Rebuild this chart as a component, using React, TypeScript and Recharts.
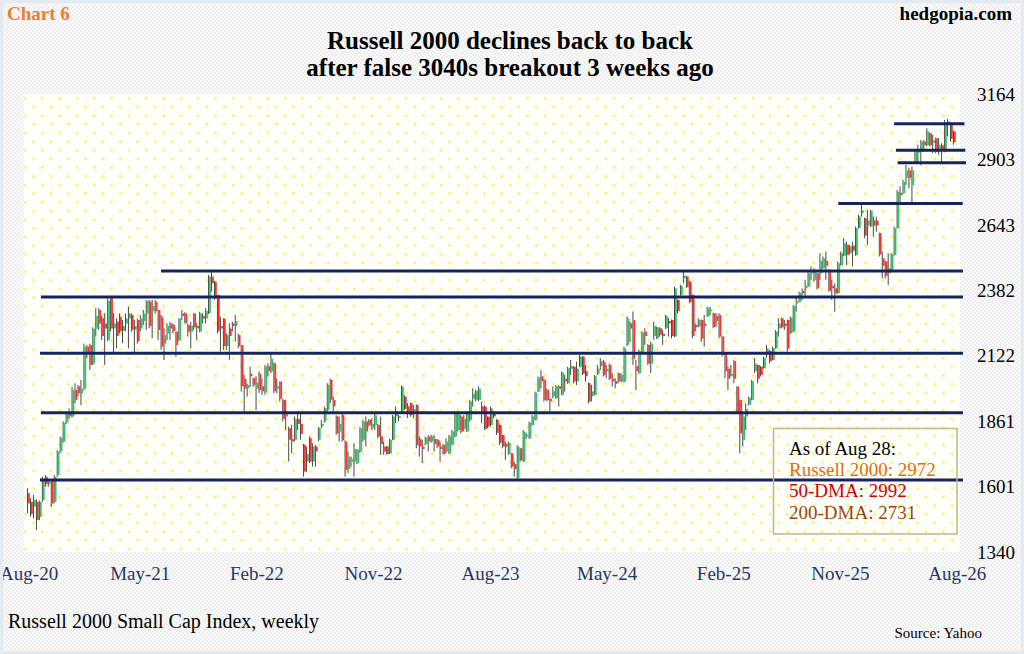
import React from 'react';
import { ComposedChart, Bar, XAxis, YAxis, CartesianGrid, ReferenceLine } from 'recharts';

const SERIF = "'Liberation Serif', 'Times New Roman', serif";

// Weekly OHLC, Russell 2000
const opens = [
  1574,1540,1520,1540,1480,1547,1640,1610,1627,1540,
  1647,1740,1779,1855,1890,1880,1985,2000,1972,1990,
  2158,2164,2090,2229,2304,2271,2250,2184,2350,2230,
  2258,2277,2220,2250,2270,2284,2225,2264,2230,2260,
  2290,2337,2300,2337,2304,2277,2170,2210,2250,2244,
  2218,2184,2290,2291,2244,2218,2290,2240,2218,2280,
  2270,2291,2437,2417,2364,2240,2270,2160,2230,2250,
  2240,2204,2164,2030,1992,2050,2032,1990,2050,2000,
  1975,2080,2060,2092,1990,2019,1946,1880,1833,1790,
  1787,1870,1850,1767,1700,1793,1700,1760,1787,1840,
  1860,1906,2026,1946,1880,1820,1886,1780,1670,1700,
  1700,1693,1740,1787,1860,1866,1835,1845,1846,1800,
  1760,1760,1733,1787,1880,1880,1899,1959,1920,1933,
  1900,1926,1790,1760,1770,1800,1780,1790,1787,1760,
  1767,1740,1733,1767,1800,1826,1879,1830,1820,1866,
  1950,1946,1946,1920,1919,1879,1846,1890,1866,1846,
  1806,1770,1730,1733,1690,1634,1753,1700,1800,1793,
  1846,1866,1979,2040,2025,1986,1950,1960,1952,2000,
  1966,2030,2012,2070,2078,2020,2078,2118,2060,2012,
  1960,1966,2050,2080,2098,2060,2085,2030,2020,2052,
  2019,2019,2165,2250,2264,2080,2052,2132,2218,2165,
  2090,2200,2191,2231,2210,2231,2260,2264,2198,2344,
  2364,2430,2437,2417,2364,2244,2238,2264,2250,2278,
  2300,2291,2280,2284,2198,2131,2070,2040,2100,1999,
  1946,1786,1880,1926,1946,2060,2085,2078,2072,2130,
  2140,2105,2151,2230,2271,2250,2264,2211,2218,2330,
  2337,2380,2390,2397,2450,2424,2450,2450,2470,2500,
  2464,2400,2390,2371,2483,2520,2563,2530,2560,2523,
  2630,2690,2669,2640,2636,2660,2660,2610,2510,2497,
  2450,2464,2523,2630,2770,2769,2830,2860,2800,2888,
  2930,2935,2975,2960,3008,2970,2988,2940,2960,2935,
  3040,3048,3015,
];

const highs = [
  1594,1554,1567,1550,1545,1640,1647,1627,1630,1647,
  1746,1800,1860,1892,1912,1998,2012,2005,2025,2170,
  2164,2170,2235,2311,2311,2280,2291,2350,2357,2291,
  2271,2290,2264,2290,2317,2290,2264,2270,2284,2304,
  2344,2344,2344,2344,2304,2284,2231,2251,2257,2251,
  2218,2271,2304,2295,2250,2257,2291,2251,2297,2291,
  2311,2443,2460,2420,2364,2277,2271,2211,2251,2257,
  2284,2210,2164,2045,2010,2078,2035,2040,2059,2030,
  2085,2092,2130,2095,2032,2020,1950,1946,1840,1846,
  1880,1900,1893,1770,1760,1800,1773,1767,1837,1866,
  1919,2012,2030,1959,1885,1880,1890,1785,1740,1720,
  1773,1750,1837,1866,1880,1870,1873,1893,1850,1879,
  1780,1762,1790,1886,1919,1886,2003,1965,1933,1935,
  1926,1928,1800,1787,1800,1806,1806,1806,1790,1780,
  1770,1793,1806,1826,1899,1899,1885,1886,1899,1946,
  1992,1986,1999,1939,1925,1880,1919,1900,1870,1848,
  1808,1780,1780,1735,1700,1766,1755,1826,1815,1859,
  1886,1979,2039,2065,2030,1990,1952,1999,2005,2005,
  2059,2045,2078,2105,2080,2098,2125,2120,2085,2015,
  2005,2045,2085,2112,2105,2085,2090,2052,2032,2055,
  2052,2158,2278,2258,2298,2105,2145,2218,2231,2168,
  2178,2258,2238,2235,2225,2284,2271,2266,2397,2346,
  2404,2457,2440,2420,2366,2250,2271,2266,2284,2317,
  2317,2293,2291,2291,2200,2131,2078,2085,2105,2000,
  1946,1892,1932,1959,2025,2112,2085,2080,2118,2165,
  2145,2158,2224,2271,2273,2264,2266,2278,2324,2357,
  2377,2390,2424,2457,2477,2470,2452,2530,2517,2537,
  2466,2424,2410,2497,2537,2590,2576,2563,2576,2636,
  2683,2722,2672,2703,2703,2676,2676,2612,2537,2500,
  2530,2530,2636,2782,2796,2822,2882,2869,2875,2942,
  2962,2981,2981,3028,3010,3001,2990,2988,2968,3061,
  3064,3050,3018,
];

const lows = [
  1494,1481,1474,1427,1467,1540,1600,1600,1520,1534,
  1640,1735,1775,1850,1870,1875,1932,1960,1925,1985,
  2111,2065,2085,2198,2224,2184,2085,2180,2218,2131,
  2151,2211,2171,2220,2151,2218,2131,2170,2218,2244,
  2224,2231,2191,2290,2184,2145,2105,2184,2184,2211,
  2118,2180,2264,2250,2198,2151,2224,2184,2215,2251,
  2251,2288,2377,2344,2211,2138,2145,2145,2105,2218,
  2178,2151,1979,1899,1959,1998,1998,1905,1973,1966,
  1966,2039,2052,1973,1973,1939,1860,1826,1700,1733,
  1780,1826,1787,1640,1660,1694,1680,1680,1780,1833,
  1855,1900,1933,1900,1807,1780,1780,1640,1654,1680,
  1640,1690,1735,1780,1760,1840,1826,1826,1793,1727,
  1727,1727,1730,1785,1853,1860,1895,1906,1873,1879,
  1873,1753,1720,1694,1765,1740,1775,1740,1753,1700,
  1727,1733,1730,1765,1798,1820,1813,1820,1818,1860,
  1919,1940,1940,1853,1826,1833,1840,1873,1806,1766,
  1753,1707,1727,1673,1640,1630,1700,1698,1790,1790,
  1844,1864,1977,1992,1939,1939,1899,1952,1950,1919,
  1964,1979,2010,2045,2012,2005,2076,2045,2019,1932,
  1939,1964,2045,2065,2039,2032,2025,1999,1992,2012,
  2015,2015,2160,2178,2085,1985,2050,2130,2165,2085,
  2052,2185,2188,2198,2165,2228,2198,2191,2196,2290,
  2360,2410,2391,2331,2191,2218,2235,2178,2158,2276,
  2284,2231,2238,2191,2118,2032,1985,2039,2012,1892,
  1733,1760,1826,1924,1944,2052,2012,2039,2070,2112,
  2092,2103,2150,2198,2231,2224,2138,2209,2216,2297,
  2335,2344,2357,2395,2424,2417,2386,2424,2468,2424,
  2377,2344,2297,2369,2480,2517,2483,2525,2477,2520,
  2628,2676,2590,2563,2634,2596,2616,2517,2430,2430,
  2404,2462,2520,2628,2729,2765,2802,2789,2722,2886,
  2888,2880,2935,2955,2955,2928,2928,2922,2888,2932,
  2995,2975,2962,
];

const closes = [
  1534,1490,1547,1467,1540,1627,1610,1620,1534,1640,
  1740,1795,1855,1890,1880,1985,1945,1972,1990,2158,
  2130,2085,2229,2280,2250,2200,2230,2340,2230,2250,
  2200,2220,2240,2270,2290,2225,2240,2180,2270,2290,
  2340,2240,2320,2300,2224,2158,2204,2240,2230,2220,
  2164,2270,2280,2251,2218,2240,2235,2231,2290,2270,
  2300,2437,2410,2350,2220,2230,2160,2204,2200,2240,
  2260,2160,2000,1990,2005,2040,2005,2015,1985,1980,
  2080,2060,2110,1980,2000,1950,1870,1900,1787,1780,
  1870,1850,1810,1660,1730,1700,1760,1740,1833,1850,
  1913,2005,1946,1920,1811,1850,1785,1667,1720,1710,
  1750,1747,1833,1860,1820,1845,1850,1885,1800,1770,
  1740,1730,1787,1880,1900,1875,1999,1910,1900,1885,
  1910,1765,1760,1750,1795,1780,1800,1770,1760,1750,
  1730,1780,1800,1820,1890,1895,1820,1870,1895,1940,
  1970,1982,1990,1900,1830,1840,1912,1880,1815,1775,
  1760,1760,1775,1680,1670,1760,1705,1820,1808,1855,
  1880,1975,2035,2020,1945,1945,1940,1980,2000,1990,
  2055,2020,2072,2080,2020,2070,2118,2050,2040,1940,
  1980,2040,2070,2100,2045,2070,2030,2020,2010,2020,
  2045,2150,2270,2230,2110,2060,2140,2215,2200,2090,
  2170,2240,2235,2205,2200,2280,2250,2200,2390,2300,
  2400,2440,2395,2335,2200,2235,2265,2190,2240,2312,
  2305,2236,2260,2198,2125,2060,2030,2050,2030,1900,
  1813,1880,1910,1955,2020,2090,2030,2045,2112,2150,
  2100,2152,2218,2250,2235,2240,2150,2274,2320,2340,
  2372,2370,2400,2450,2460,2465,2390,2500,2510,2480,
  2380,2390,2370,2490,2530,2570,2523,2557,2540,2630,
  2676,2700,2600,2660,2700,2640,2640,2525,2480,2440,
  2470,2525,2630,2775,2760,2815,2860,2830,2860,2938,
  2945,2975,2960,3015,2960,2980,2935,2960,2940,3050,
  3055,2985,2972,
];

// X axis (week index positions of the date labels)
const xTickPositions = [0.15, 37.6, 76.9, 116.2, 155.6, 194.9, 234.2, 273.5, 312.9];
const xTickLabels = ['Aug-20', 'May-21', 'Feb-22', 'Nov-22', 'Aug-23', 'May-24', 'Feb-25', 'Nov-25', 'Aug-26'];
const yTicks = [1340, 1601, 1861, 2122, 2382, 2643, 2903, 3164];

// Support / resistance levels
const levelValues = [1627, 1895, 2132, 2356, 2459, 2728, 2890, 2940, 3046];
const levelStarts = [3.8, 4.1, 3.8, 4.1, 44.6, 272.8, 292.8, 292.2, 291.6];
const levelEnds = [314.8, 314.8, 314.8, 314.8, 314.8, 314.7, 315.8, 315.6, 315.3];

const legendLines = [
  { text: 'As of Aug 28:', color: '#000000' },
  { text: 'Russell 2000: 2972', color: '#E46C0A' },
  { text: '50-DMA: 2992', color: '#D00000' },
  { text: '200-DMA: 2731', color: '#974806' },
];

const n = Math.min(opens.length, highs.length, lows.length, closes.length);
const data = Array.from({ length: n }, (_, i) => ({
  i,
  open: opens[i],
  high: highs[i],
  low: lows[i],
  close: closes[i],
  range: [lows[i], highs[i]],
}));

const GREEN = '#2fc46c';
const RED = '#ff3030';
const WICK = '#4a4a4a';

const Candle = (props: any) => {
  const { x, y, width, height, payload } = props;
  if (payload == null || x == null || y == null) return null;
  const { open, high, low, close } = payload;
  const top = Math.min(y, y + height);
  const h = Math.abs(height);
  const cx = x + width / 2;
  const span = high - low || 1;
  const py = (v: number) => top + ((high - v) / span) * h;
  const up = close >= open;
  const bTop = py(Math.max(open, close));
  const bBot = py(Math.min(open, close));
  return (
    <g>
      <rect x={cx - 1.2} y={top} width={1} height={Math.max(h, 1)} fill={WICK} />
      <rect x={cx - 0.2} y={bTop} width={1.8} height={Math.max(bBot - bTop, 1)} fill={up ? GREEN : RED} />
    </g>
  );
};

const fmtX = (v: number) => {
  const k = xTickPositions.indexOf(v);
  return k >= 0 ? xTickLabels[k] : '';
};

export default function App() {
  return (
    <div
      style={{
        position: 'absolute',
        left: 0,
        top: 0,
        width: 1024,
        height: 654,
        overflow: 'hidden',
        background: 'repeating-conic-gradient(#eeeeee 0% 25%, #fafafa 0% 50%) 0 0 / 4px 4px',
      }}
    >
      <ComposedChart
        width={1024}
        height={654}
        data={data}
        margin={{ top: 94, right: 0, bottom: 72, left: 23.6 }}
      >
        <defs>
          <pattern id="dotPattern" patternUnits="userSpaceOnUse" x={29.33} y={93.97} width={17.33} height={17.33}>
            <rect x={0} y={0} width={17.33} height={17.33} fill="#fffffb" />
            <rect x={12} y={3.33} width={2} height={2} fill="#f4f400" />
            <rect x={3.33} y={12} width={2} height={2} fill="#f4f400" />
          </pattern>
        </defs>
        <CartesianGrid horizontal={false} vertical={false} fill="url(#dotPattern)" stroke="none" />
        <XAxis
          type="number"
          dataKey="i"
          domain={[-1.72, 313.8]}
          allowDataOverflow
          ticks={xTickPositions}
          tickFormatter={fmtX}
          interval={0}
          axisLine={false}
          tickLine={false}
          tickSize={0}
          tickMargin={15}
          height={30}
          tick={{ fill: '#1f3864', fontSize: 19, fontFamily: SERIF }}
        />
        <YAxis
          orientation="right"
          domain={[1340, 3164]}
          allowDataOverflow
          ticks={yTicks}
          interval={0}
          width={64}
          axisLine={false}
          tickLine={false}
          tickSize={0}
          tickMargin={17}
          tick={{ fill: '#000000', fontSize: 19, fontFamily: SERIF }}
        />
        <Bar dataKey="range" barSize={2} shape={Candle} isAnimationActive={false} />
        {levelValues.map((v, k) => (
          <ReferenceLine
            key={k}
            segment={[
              { x: levelStarts[k], y: v },
              { x: levelEnds[k], y: v },
            ]}
            stroke="#15255c"
            strokeWidth={3}
            ifOverflow="visible"
          />
        ))}
      </ComposedChart>

      <svg
        width={1024}
        height={654}
        style={{ position: 'absolute', left: 0, top: 0, pointerEvents: 'none' }}
        fontFamily={SERIF}
      >
        <text x={7} y={20} fontSize={19} fontWeight="bold" fill="#ED7D31">Chart 6</text>
        <text x={1012} y={20} fontSize={19} fontWeight="bold" fill="#000" textAnchor="end">hedgopia.com</text>
        <text x={510} y={48.5} fontSize={25} fontWeight="bold" fill="#000" textAnchor="middle">
          Russell 2000 declines back to back
        </text>
        <text x={510} y={76} fontSize={25} fontWeight="bold" fill="#000" textAnchor="middle">
          after false 3040s breakout 3 weeks ago
        </text>
        <rect x={773.5} y={428.5} width={183.5} height={105.5} fill="none" stroke="#c9b382" strokeWidth={1.5} />
        {legendLines.map((l, k) => (
          <text key={k} x={789} y={455 + k * 21.2} fontSize={19} fill={l.color}>
            {l.text}
          </text>
        ))}
        <text x={8} y={628} fontSize={20} fill="#000">Russell 2000 Small Cap Index, weekly</text>
        <text x={982} y={638} fontSize={15} fill="#000" textAnchor="end">Source: Yahoo</text>
      </svg>
      <div
        style={{
          position: 'absolute',
          left: 0,
          top: 0,
          width: 1024,
          height: 654,
          boxSizing: 'border-box',
          border: '3px solid #e4eaf2',
          pointerEvents: 'none',
        }}
      />
    </div>
  );
}
